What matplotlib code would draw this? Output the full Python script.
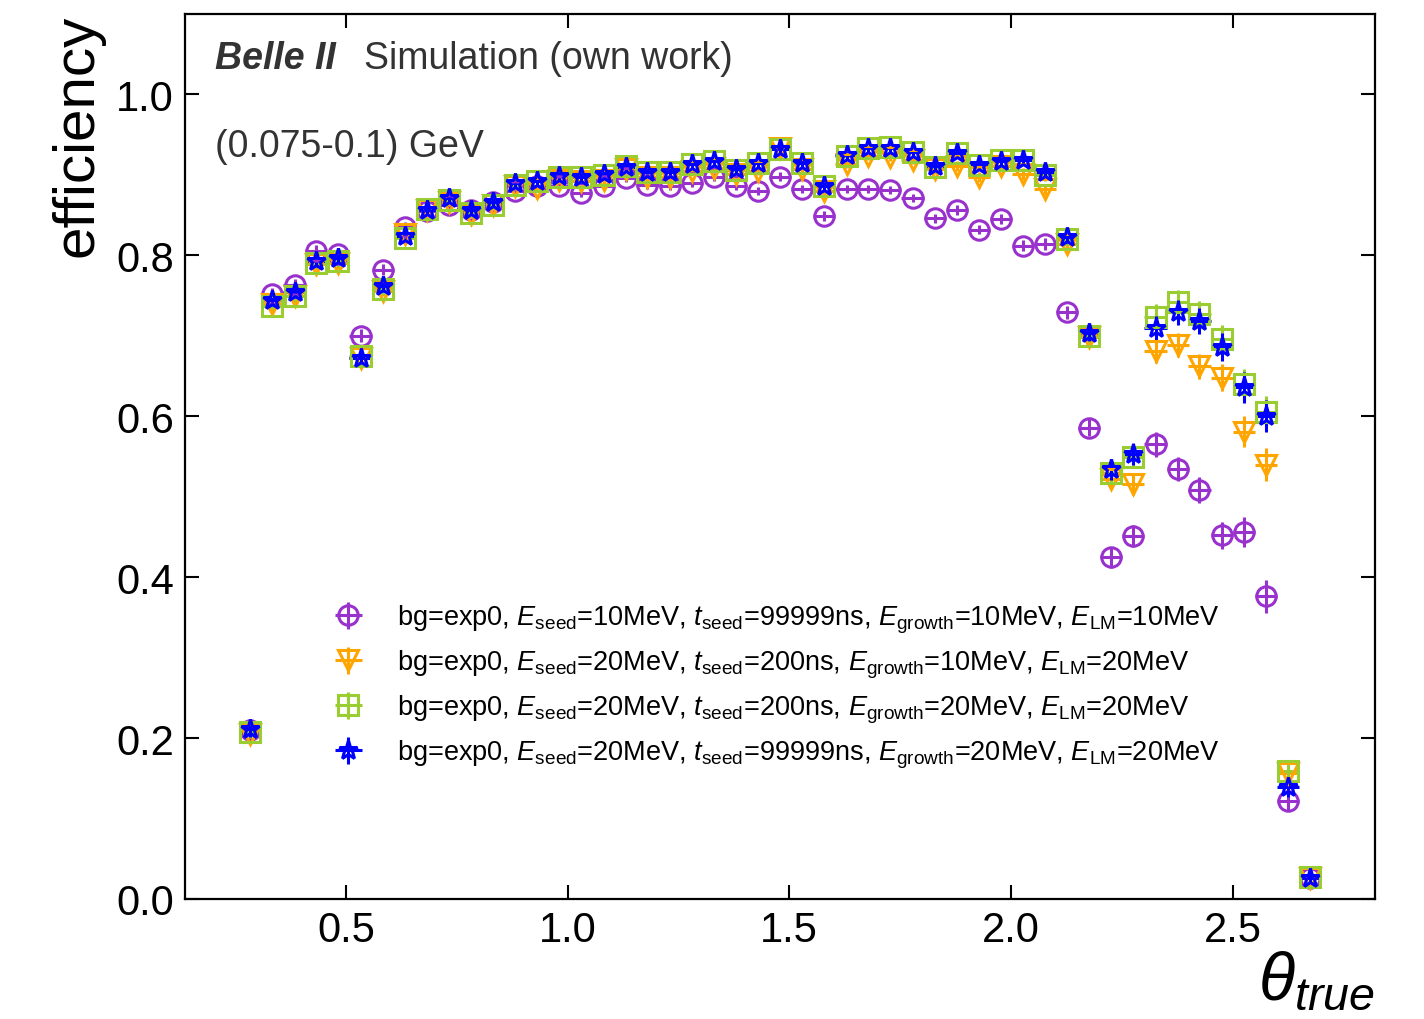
import matplotlib
matplotlib.use("Agg")
import matplotlib.pyplot as plt

plt.rcParams['font.family'] = ['Liberation Sans', 'DejaVu Sans']
plt.rcParams['mathtext.fontset'] = 'custom'
plt.rcParams['mathtext.rm'] = 'Liberation Sans'
plt.rcParams['mathtext.it'] = 'Liberation Sans:italic'
plt.rcParams['mathtext.bf'] = 'Liberation Sans:bold'

theta = [0.284, 0.334, 0.384, 0.433, 0.483, 0.533, 0.583, 0.633, 0.682, 0.732,
         0.782, 0.832, 0.882, 0.931, 0.981, 1.031, 1.081, 1.131, 1.180, 1.230,
         1.280, 1.330, 1.380, 1.429, 1.479, 1.529, 1.579, 1.629, 1.678, 1.728,
         1.778, 1.828, 1.878, 1.927, 1.977, 2.027, 2.077, 2.127, 2.176, 2.226,
         2.276, 2.326, 2.376, 2.425, 2.475, 2.525, 2.575, 2.625, 2.674]
half_bin = 0.025

eff_seed10_t99999_g10_lm10 = [
    0.210, 0.752, 0.763, 0.806, 0.802, 0.700, 0.782, 0.835, 0.855, 0.863,
    0.857, 0.866, 0.880, 0.886, 0.886, 0.878, 0.886, 0.896, 0.888, 0.886,
    0.890, 0.897, 0.886, 0.880, 0.898, 0.882, 0.849, 0.883, 0.883, 0.881,
    0.871, 0.846, 0.856, 0.832, 0.845, 0.812, 0.814, 0.729, 0.586, 0.425,
    0.451, 0.565, 0.535, 0.508, 0.452, 0.456, 0.376, 0.122, 0.026]
eff_seed20_t200_g10_lm20 = [
    0.205, 0.739, 0.749, 0.789, 0.790, 0.672, 0.756, 0.826, 0.857, 0.866,
    0.851, 0.862, 0.886, 0.884, 0.894, 0.892, 0.894, 0.907, 0.898, 0.898,
    0.905, 0.909, 0.901, 0.905, 0.934, 0.907, 0.880, 0.913, 0.923, 0.922,
    0.919, 0.907, 0.911, 0.897, 0.911, 0.901, 0.882, 0.814, 0.698, 0.522,
    0.516, 0.681, 0.689, 0.662, 0.648, 0.581, 0.540, 0.157, 0.026]
eff_seed20_t200_g20_lm20 = [
    0.207, 0.737, 0.749, 0.791, 0.793, 0.675, 0.758, 0.822, 0.858, 0.869,
    0.853, 0.863, 0.888, 0.892, 0.898, 0.897, 0.900, 0.911, 0.903, 0.903,
    0.913, 0.917, 0.906, 0.915, 0.932, 0.915, 0.886, 0.923, 0.933, 0.935,
    0.929, 0.910, 0.927, 0.912, 0.919, 0.919, 0.900, 0.820, 0.700, 0.530,
    0.550, 0.724, 0.742, 0.727, 0.696, 0.640, 0.605, 0.159, 0.027]
eff_seed20_t99999_g20_lm20 = [
    0.211, 0.745, 0.755, 0.793, 0.797, 0.673, 0.762, 0.824, 0.857, 0.871,
    0.856, 0.866, 0.890, 0.892, 0.899, 0.897, 0.901, 0.910, 0.903, 0.903,
    0.913, 0.917, 0.907, 0.915, 0.932, 0.915, 0.886, 0.925, 0.933, 0.934,
    0.929, 0.911, 0.927, 0.912, 0.917, 0.919, 0.903, 0.823, 0.704, 0.534,
    0.553, 0.710, 0.729, 0.718, 0.686, 0.636, 0.600, 0.139, 0.026]
eff_err = [
    0.010, 0.008, 0.008, 0.007, 0.007, 0.008, 0.007, 0.006, 0.005, 0.005,
    0.005, 0.005, 0.005, 0.005, 0.005, 0.005, 0.005, 0.005, 0.005, 0.005,
    0.005, 0.005, 0.005, 0.005, 0.005, 0.005, 0.006, 0.005, 0.005, 0.005,
    0.005, 0.006, 0.006, 0.006, 0.006, 0.007, 0.007, 0.008, 0.010, 0.013,
    0.014, 0.015, 0.015, 0.016, 0.017, 0.019, 0.020, 0.012, 0.006]

labels = [
    r"bg=exp0, $E_{\mathrm{seed}}$=10MeV, $t_{\mathrm{seed}}$=99999ns, $E_{\mathrm{growth}}$=10MeV, $E_{\mathrm{LM}}$=10MeV",
    r"bg=exp0, $E_{\mathrm{seed}}$=20MeV, $t_{\mathrm{seed}}$=200ns, $E_{\mathrm{growth}}$=10MeV, $E_{\mathrm{LM}}$=20MeV",
    r"bg=exp0, $E_{\mathrm{seed}}$=20MeV, $t_{\mathrm{seed}}$=200ns, $E_{\mathrm{growth}}$=20MeV, $E_{\mathrm{LM}}$=20MeV",
    r"bg=exp0, $E_{\mathrm{seed}}$=20MeV, $t_{\mathrm{seed}}$=99999ns, $E_{\mathrm{growth}}$=20MeV, $E_{\mathrm{LM}}$=20MeV",
]
series = [eff_seed10_t99999_g10_lm10, eff_seed20_t200_g10_lm20,
          eff_seed20_t200_g20_lm20, eff_seed20_t99999_g20_lm20]
colors = ['#9932CC', '#FFA500', '#9ACD32', '#0000FF']
markers = ['o', 'v', 's', '*']

fig = plt.figure(figsize=(14.24, 10.20), dpi=100)
ax = fig.add_axes([185/1424, 1-900/1020, (1375-185)/1424, (900-15)/1020])

for y, c, m, lab in zip(series, colors, markers, labels):
    ax.errorbar(theta, y, yerr=eff_err, xerr=half_bin, fmt=m, color=c,
                mfc='none', mec=c, ms=14, mew=2.2, elinewidth=2.2,
                capsize=0, label=lab)

ax.set_ylim(0, 1.1)
ax.set_yticks([0.0, 0.2, 0.4, 0.6, 0.8, 1.0])
ax.set_xticks([0.5, 1.0, 1.5, 2.0, 2.5])
ax.tick_params(direction='in', length=10, width=1.5, labelsize=30,
               top=True, right=True, pad=8)
for s in ax.spines.values():
    s.set_linewidth(1.6)

ax.set_ylabel('efficiency', fontsize=42, loc='top', labelpad=8)
ax.set_xlabel(r'$\theta_{true}$', fontsize=48, loc='right', labelpad=0)

ax.text(0.025, 0.971, r'Belle II', transform=ax.transAxes, fontsize=27,
        fontweight='bold', fontstyle='italic', color='#333333', va='top')
ax.text(0.150, 0.971, 'Simulation (own work)', transform=ax.transAxes,
        fontsize=27, color='#333333', va='top')
ax.text(0.025, 0.871, '(0.075-0.1) GeV', transform=ax.transAxes,
        fontsize=27, color='#333333', va='top')

ax.legend(loc='upper left', bbox_to_anchor=(0.094, 0.362), frameon=False,
          fontsize=19.5, handletextpad=0.78, labelspacing=0.47,
          handlelength=2.0)

fig.savefig('out.png', dpi=100)
